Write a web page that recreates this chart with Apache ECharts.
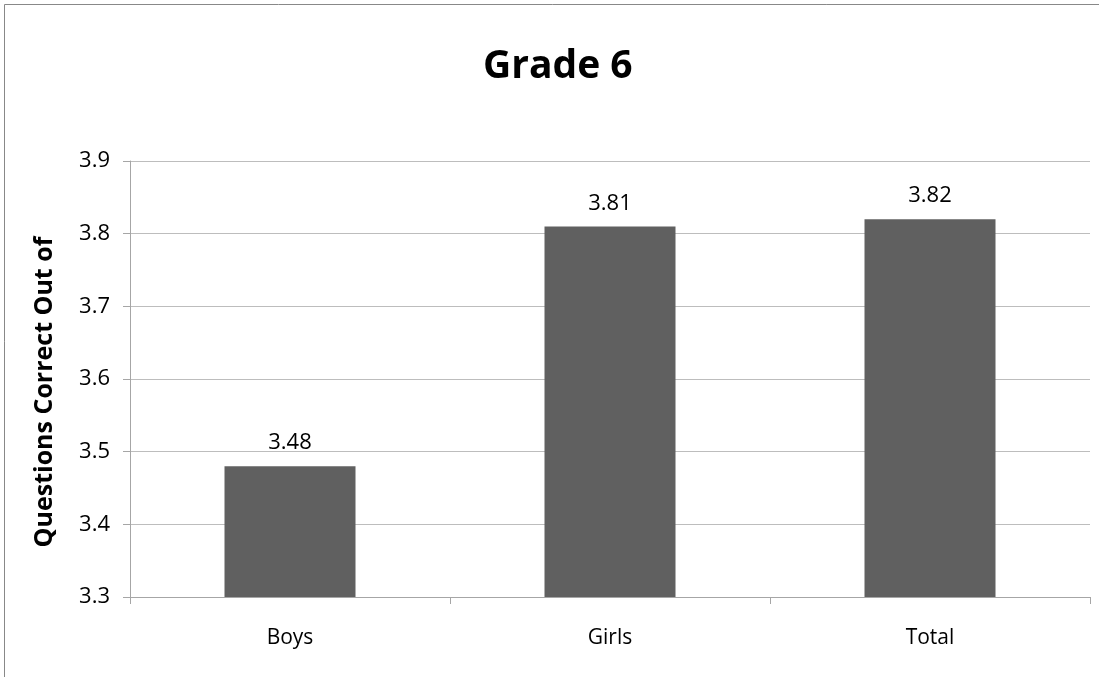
<!DOCTYPE html>
<html>
<head>
<meta charset="utf-8">
<script src="https://cdn.jsdelivr.net/npm/echarts@6/dist/echarts.min.js"></script>
<style>
  html, body { margin: 0; padding: 0; background: #fff; }
  #chart { width: 1099px; height: 677px; }
</style>
</head>
<body>
<div id="chart"></div>
<script>
const categories = ['Boys', 'Girls', 'Total']
const scores = [3.48, 3.81, 3.82]
const yTicks = [3.3, 3.4, 3.5, 3.6, 3.7, 3.8, 3.9]

const chart = echarts.init(document.getElementById('chart'))
const font = '"Open Sans", "Noto Sans", sans-serif'

chart.setOption({
  animation: false,
  textStyle: { fontFamily: font },
  title: {
    text: 'Grade 6',
    left: 478,
    top: 42,
    textStyle: { fontSize: 39, fontWeight: 'bold', color: '#000', fontFamily: font }
  },
  // 外框，只看得到左边和上边
  graphic: [{
    type: 'rect',
    shape: { x: 4.5, y: 4.5, width: 1200, height: 800 },
    style: { fill: 'none', stroke: '#888', lineWidth: 1 },
    silent: true
  }],
  grid: { left: 130, right: 9, top: 161, bottom: 80 },
  xAxis: {
    type: 'category',
    data: categories,
    axisLine: { lineStyle: { color: '#a6a6a6' } },
    axisTick: { show: true, length: 7, lineStyle: { color: '#a6a6a6' } },
    axisLabel: { fontSize: 21, color: '#000', margin: 31 }
  },
  yAxis: {
    type: 'value',
    min: yTicks[0],
    max: yTicks[yTicks.length - 1],
    interval: 0.1,
    name: 'Questions Correct Out of',
    nameLocation: 'middle',
    nameGap: 73,
    nameTextStyle: { fontSize: 25, fontWeight: 'bold', color: '#000', padding: [0, 26, 0, 0] },
    axisLine: { show: true, lineStyle: { color: '#a6a6a6' } },
    axisTick: { show: true, length: 7, lineStyle: { color: '#a6a6a6' } },
    splitLine: { lineStyle: { color: '#bdbdbd' } },
    axisLabel: {
      fontSize: 22,
      color: '#000',
      margin: 20,
      formatter: v => v.toFixed(1)
    }
  },
  series: [{
    type: 'bar',
    data: scores,
    barWidth: 131,
    itemStyle: { color: '#606060' },
    label: {
      show: true,
      position: 'top',
      distance: 12,
      fontSize: 22,
      color: '#000',
      formatter: p => p.value.toFixed(2)
    }
  }]
})
</script>
</body>
</html>
